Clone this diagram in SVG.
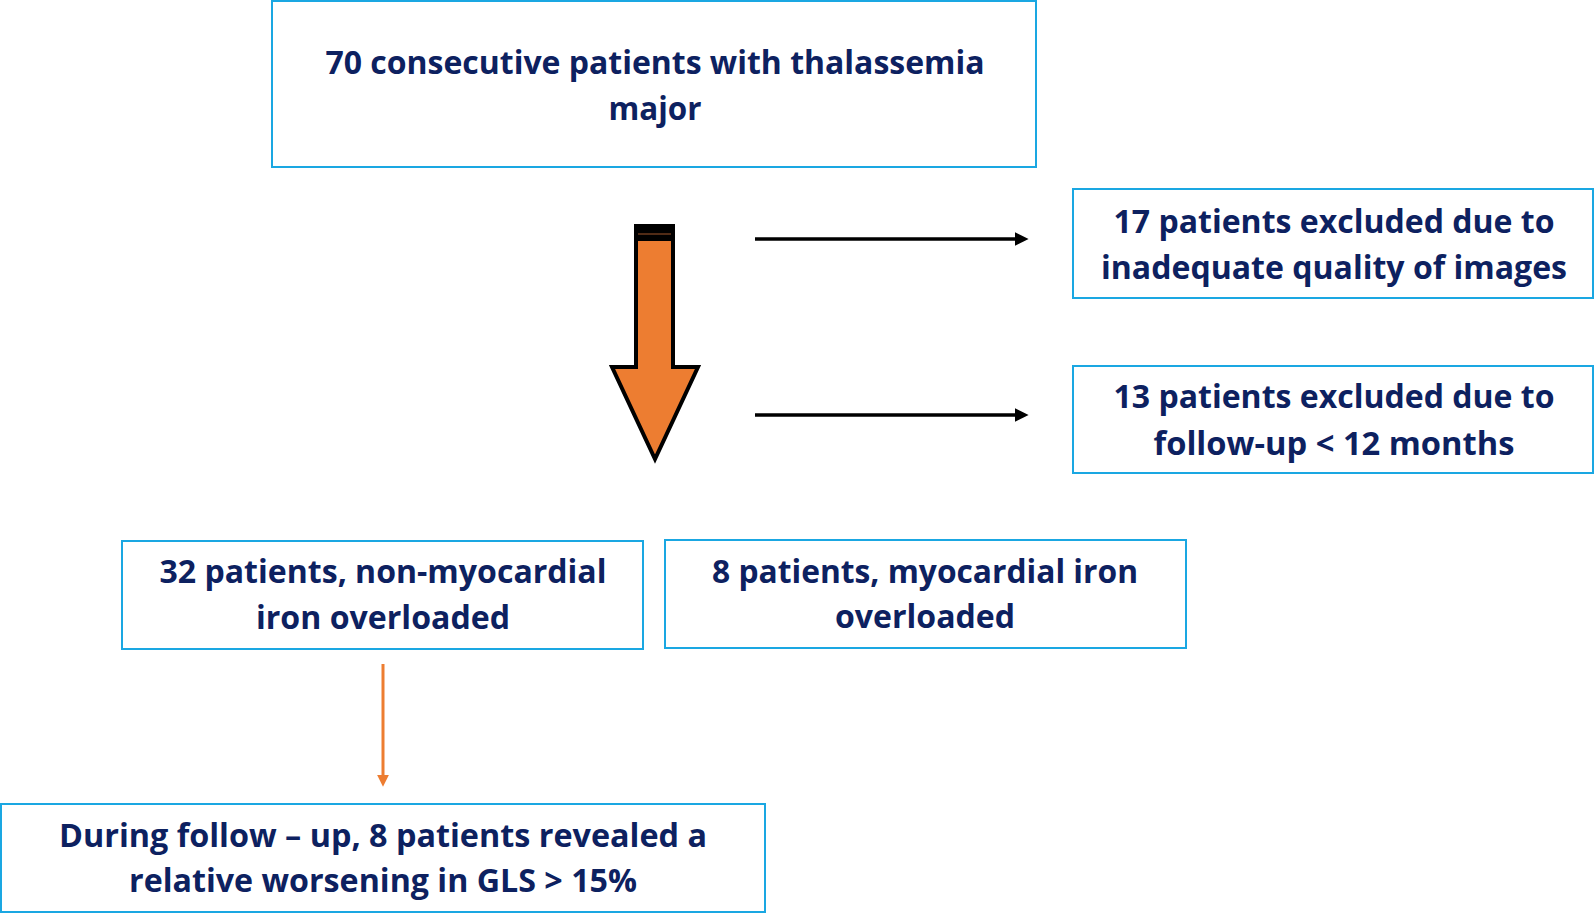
<svg xmlns="http://www.w3.org/2000/svg" width="1594" height="914" viewBox="0 0 1594 914">
<style>
.box{fill:#fff;stroke:#1AA7E2;stroke-width:2}
.t{font-family:"Open Sans","Liberation Sans",sans-serif;font-weight:700;font-size:33px;fill:#0D2160;text-anchor:middle}
.conn{stroke:#000;stroke-width:3.5;fill:none}
</style>
<defs>
<marker id="ah" viewBox="0 0 10 10" refX="1" refY="5" markerWidth="4" markerHeight="4" orient="auto" markerUnits="strokeWidth">
<path d="M0,0 L10,5 L0,10 z" fill="#000"/>
</marker>
<marker id="aho" viewBox="0 0 10 10" refX="1" refY="5" markerWidth="4" markerHeight="4" orient="auto" markerUnits="strokeWidth">
<path d="M0,0 L10,5 L0,10 z" fill="#ED7D31"/>
</marker>
</defs>
<rect width="1594" height="914" fill="#fff"/>
<g id="n-top">
<rect class="box" x="272" y="1" width="764" height="166"/>
<text class="t" x="655" y="74" textLength="659" lengthAdjust="spacingAndGlyphs">70 consecutive patients with thalassemia</text>
<text class="t" x="655" y="120" textLength="93" lengthAdjust="spacingAndGlyphs">major</text>
</g>
<g id="n-excl1">
<rect class="box" x="1073" y="189" width="520" height="109"/>
<text class="t" x="1334" y="233" textLength="441" lengthAdjust="spacingAndGlyphs">17 patients excluded due to</text>
<text class="t" x="1334" y="279" textLength="466" lengthAdjust="spacingAndGlyphs">inadequate quality of images</text>
</g>
<g id="n-excl2">
<rect class="box" x="1073" y="366" width="520" height="107"/>
<text class="t" x="1334" y="408" textLength="441" lengthAdjust="spacingAndGlyphs">13 patients excluded due to</text>
<text class="t" x="1334" y="455" textLength="361" lengthAdjust="spacingAndGlyphs">follow-up &lt; 12 months</text>
</g>
<g id="n-nonmyo">
<rect class="box" x="122" y="541" width="521" height="108"/>
<text class="t" x="383" y="583" textLength="447" lengthAdjust="spacingAndGlyphs">32 patients, non-myocardial</text>
<text class="t" x="383" y="629" textLength="254" lengthAdjust="spacingAndGlyphs">iron overloaded</text>
</g>
<g id="n-myo">
<rect class="box" x="665" y="540" width="521" height="108"/>
<text class="t" x="925" y="583" textLength="426" lengthAdjust="spacingAndGlyphs">8 patients, myocardial iron</text>
<text class="t" x="925" y="628" textLength="180" lengthAdjust="spacingAndGlyphs">overloaded</text>
</g>
<g id="n-gls">
<rect class="box" x="1" y="804" width="764" height="108"/>
<text class="t" x="383" y="847" textLength="648" lengthAdjust="spacingAndGlyphs">During follow – up, 8 patients revealed a</text>
<text class="t" x="383" y="892" textLength="508" lengthAdjust="spacingAndGlyphs">relative worsening in GLS &gt; 15%</text>
</g>
<g id="connectors">
<g id="big-arrow">
<path d="M636,226 L673,226 L673,367 L698,367 L655,459 L612,367 L636,367 Z" fill="#ED7D31" stroke="#000" stroke-width="4" stroke-linejoin="miter"/>
<rect x="636" y="224" width="37" height="17" fill="#000"/>
<line x1="638" y1="234" x2="671" y2="234" stroke="#6B3A1E" stroke-width="1.5"/>
</g>
<line class="conn" x1="755" y1="239" x2="1016" y2="239" marker-end="url(#ah)"/>
<line class="conn" x1="755" y1="415" x2="1016" y2="415" marker-end="url(#ah)"/>
<line x1="383" y1="664" x2="383" y2="776" stroke="#ED7D31" stroke-width="3" marker-end="url(#aho)"/>
</g>
</svg>
